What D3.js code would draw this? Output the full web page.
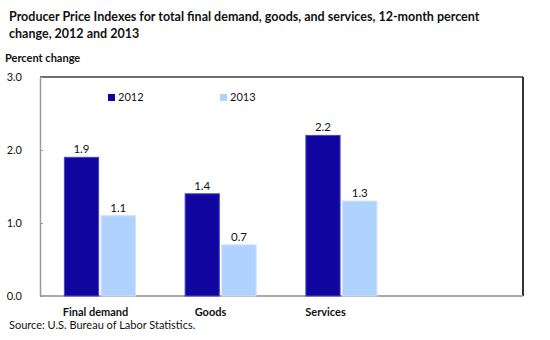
<!DOCTYPE html>
<html>
<head>
<meta charset="utf-8">
<script src="https://cdn.jsdelivr.net/npm/d3@7"></script>
<style>
  body { margin: 0; background: #fff; }
  svg text { font-family: Lato, "Open Sans", sans-serif; fill: #111; }
</style>
</head>
<body>
<div id="plot"></div>
<script>
// Percent change by category, one value per year
const categories = ["Final demand", "Goods", "Services"];
const years = ["2012", "2013"];
const values2012 = [1.9, 1.4, 2.2];
const values2013 = [1.1, 0.7, 1.3];
const yTicks = [0, 1, 2, 3];

const colors = { "2012": "#10069f", "2013": "#afd2ff" };
const strokes = { "2012": "#4a44c8", "2013": "#c8e0ff" };

const width = 550, height = 340;
const margin = { top: 77, right: 27, bottom: 44, left: 40 };

const svg = d3.select("#plot").append("svg")
  .attr("width", width)
  .attr("height", height);

// Title, two lines
svg.append("text")
  .attr("x", 9).attr("y", 21)
  .style("font-size", "12.5px").style("font-weight", "bold")
  .text("Producer Price Indexes for total final demand, goods, and services, 12-month percent");
svg.append("text")
  .attr("x", 9).attr("y", 38)
  .style("font-size", "12.5px").style("font-weight", "bold")
  .text("change, 2012 and 2013");

svg.append("text")
  .attr("x", 5).attr("y", 62)
  .style("font-size", "11px").style("font-weight", "bold")
  .text("Percent change");

const innerW = width - margin.left - margin.right;
const innerH = height - margin.top - margin.bottom;

// An empty fourth slot keeps the groups to the left
const x0 = d3.scaleBand()
  .domain([...categories, ""])
  .range([margin.left, margin.left + innerW]);
const x1 = d3.scaleBand()
  .domain(years)
  .range([0, 71])
  .paddingInner(0.07);
const y = d3.scaleLinear()
  .domain([0, 3])
  .range([margin.top + innerH, margin.top]);

// Plot frame
const frame = svg.append("g");
frame.append("line")
  .attr("x1", margin.left).attr("x2", margin.left + innerW)
  .attr("y1", margin.top).attr("y2", margin.top)
  .attr("stroke", "#6e6e6e").attr("stroke-width", 2);
frame.append("line")
  .attr("x1", margin.left + innerW).attr("x2", margin.left + innerW)
  .attr("y1", margin.top).attr("y2", margin.top + innerH)
  .attr("stroke", "#333").attr("stroke-width", 2);
frame.append("line")
  .attr("x1", margin.left).attr("x2", margin.left + innerW)
  .attr("y1", margin.top + innerH).attr("y2", margin.top + innerH)
  .attr("stroke", "#aaa").attr("stroke-width", 2);

// Y axis
const yAxis = d3.axisLeft(y)
  .tickValues(yTicks)
  .tickFormat(d3.format(".1f"))
  .tickSizeInner(-3)
  .tickSizeOuter(0)
  .tickPadding(18);
const yG = svg.append("g")
  .attr("transform", `translate(${margin.left},0)`)
  .call(yAxis);
yG.select(".domain").attr("stroke", "#999").attr("stroke-width", 1.5);
yG.selectAll(".tick line").attr("stroke", "#999");
yG.selectAll(".tick text")
  .style("font-size", "11px")
  .style("font-family", "Lato, sans-serif")
  .attr("fill", "#222");

// Bars
const rows = categories.map((c, i) => ({ cat: c, vals: [values2012[i], values2013[i]] }));
const groups = svg.append("g").selectAll("g")
  .data(rows)
  .join("g")
  .attr("transform", d => `translate(${x0(d.cat) + x0.bandwidth() / 2 - 36},0)`);

const bars = groups.selectAll("g")
  .data(d => d.vals.map((v, j) => ({ year: years[j], value: v })))
  .join("g");
bars.append("rect")
  .attr("x", d => x1(d.year))
  .attr("y", d => y(d.value))
  .attr("width", x1.bandwidth())
  .attr("height", d => y(0) - y(d.value))
  .attr("fill", d => colors[d.year])
  .attr("stroke", d => strokes[d.year])
  .attr("stroke-width", 1);
bars.append("text")
  .attr("x", d => x1(d.year) + x1.bandwidth() / 2)
  .attr("y", d => y(d.value) - 4)
  .attr("text-anchor", "middle")
  .style("font-size", "11.5px")
  .text(d => d3.format(".1f")(d.value));

// Category labels
const xLabels = d3.scaleBand()
  .domain([...categories, ""])
  .range([38, 498]);
svg.append("g").selectAll("text")
  .data(categories)
  .join("text")
  .attr("x", d => xLabels(d) + xLabels.bandwidth() / 2)
  .attr("y", 316)
  .attr("text-anchor", "middle")
  .style("font-size", "11px").style("font-weight", "bold")
  .text(d => d);

// Legend
const legendX = d3.scalePoint().domain(years).range([108, 220]);
const legend = svg.append("g").selectAll("g")
  .data(years)
  .join("g")
  .attr("transform", d => `translate(${legendX(d)},94)`);
legend.append("rect")
  .attr("width", 7).attr("height", 7)
  .attr("fill", d => colors[d]);
legend.append("text")
  .attr("x", 10).attr("y", 7)
  .style("font-size", "11px")
  .text(d => d);

svg.append("text")
  .attr("x", 9).attr("y", 329)
  .style("font-size", "11px")
  .text("Source: U.S. Bureau of Labor Statistics.");
</script>
</body>
</html>
